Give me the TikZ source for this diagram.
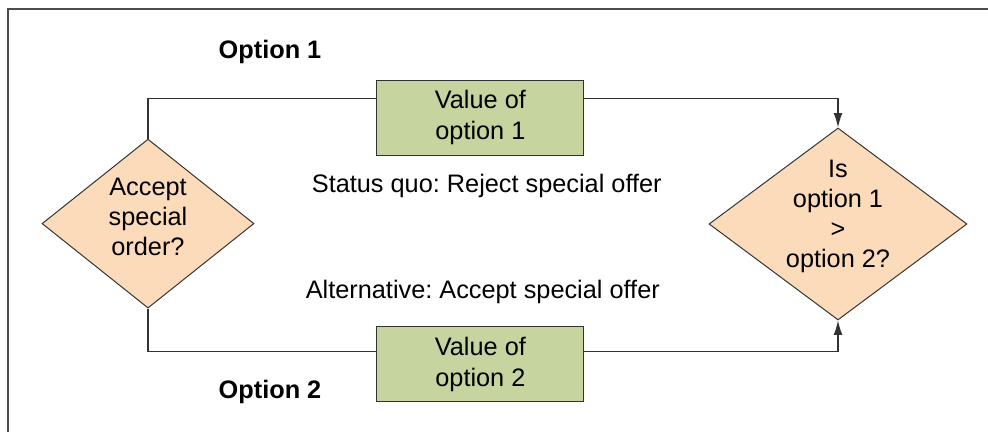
\documentclass[tikz,border=0pt]{standalone}
\usepackage{fontspec}
\setmainfont{Liberation Sans}
\usetikzlibrary{shapes.geometric,arrows.meta,positioning}
\frenchspacing

\definecolor{boxgreen}{RGB}{198,212,160}
\definecolor{decpeach}{RGB}{252,219,186}
\definecolor{linegray}{RGB}{50,50,50}

\tikzset{
  decision/.style={diamond, draw=linegray, fill=decpeach, line width=0.7pt, inner sep=-10pt, align=center, font=\fontsize{18}{21.3}\selectfont},
  valuebox/.style={rectangle, draw=linegray, fill=boxgreen, line width=0.8pt, minimum width=5.175cm, minimum height=1.875cm, align=center, font=\fontsize{18}{22}\selectfont},
  flow/.style={draw=linegray, line width=0.8pt},
  tip/.style={-{Latex[length=3.6mm,width=2.2mm]}},
  lbl/.style={font=\fontsize{18}{22}\selectfont},
}

\begin{document}
\begin{tikzpicture}
        \useasboundingbox (0,0) rectangle (24.7,10.8);
        \draw[gray!60!black, line width=1.2pt] (0.2,0) -- (0.2,10.575) -- (24.7,10.575);

        \node (dl) at (3.70,5.21) [decision, text depth=9.5pt, minimum width=5.3cm, minimum height=4.225cm] {Accept\\special\\order?};
        \node (dr) at (20.95,5.2) [decision, text depth=14pt, minimum width=6.45cm, minimum height=4.8cm] {Is\\option 1\\>\\option 2?};

        \node (v1) at (12.01,7.86) [valuebox] {Value of\\option 1};
        \node (v2) at (12.01,1.70) [valuebox] {Value of\\option 2};

        \node (opt1) at (6.75,9.5) [lbl, font=\fontsize{18}{22}\selectfont\bfseries] {Option 1};
        \node (opt2) at (6.75,1.0) [lbl, font=\fontsize{18}{22}\selectfont\bfseries] {Option 2};
        \node (sq) at (12.17,6.15) [lbl] {Status quo: Reject special offer};
        \node (alt) at (12.07,3.5) [lbl] {Alternative: Accept special offer};

        \draw[flow] (dl.north) |- ([yshift=4.8mm]v1.west);
        \draw[flow, tip] ([yshift=4.8mm]v1.east) -| (dr.north);
        \draw[flow] (dl.south) |- ([yshift=3.1mm]v2.west);
        \draw[flow, tip] ([yshift=3.1mm]v2.east) -| (dr.south);
\end{tikzpicture}
\end{document}
